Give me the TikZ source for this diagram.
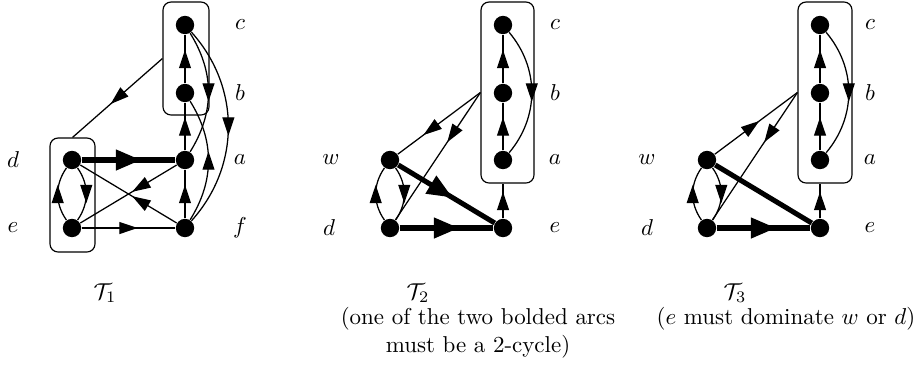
\documentclass[tikz,border=0pt]{standalone}
\usetikzlibrary{arrows.meta, decorations.markings, fit}

\begin{document}
\begin{tikzpicture}[
    x=0.0153cm, y=-0.0153cm,
    vtx/.style={circle, fill=black, inner sep=0pt, minimum size=8pt},
    grp/.style={draw, rounded corners=3.5pt, inner sep=0pt, line width=0.5pt},
    arc/.style={line width=0.55pt, postaction={decorate},
        decoration={markings, mark=at position #1 with {\arrow[xshift=4pt]{Triangle[length=8pt, width=5.2pt]}}}},
    arc/.default=0.5,
    boldarc/.style={line width=2.2pt, postaction={decorate},
        decoration={markings, mark=at position #1 with {\arrow[xshift=5.5pt]{Triangle[length=11pt, width=8.6pt]}}}},
    boldarc/.default=0.5,
    boldline/.style={line width=2.2pt}
]
\path[use as bounding box] (0,0) rectangle (917,365);

% --- T1 ---
\node[vtx] (c1) at (185, 25) {};
\node[vtx] (b1) at (185, 93) {};
\node[vtx] (a1) at (185, 160) {};
\node[vtx] (f1) at (185, 228) {};
\node[vtx] (d1) at (72, 160) {};
\node[vtx] (e1) at (72, 228) {};
\node[grp, fit={(163,2) (209,115)}] (cb1) {};
\node[grp, fit={(50,138) (95,252)}] (de1) {};

\node (lc1) at (240, 25) {$c$};
\node (lb1) at (240, 93) {$b$};
\node (la1) at (240, 160) {$a$};
\node (lf1) at (240, 228) {$f$};
\node (ld1) at (13, 160) {$d$};
\node (le1) at (13, 228) {$e$};

\draw[arc] (b1) -- (c1);
\draw[arc] (a1) -- (b1);
\draw[arc] (f1) -- (a1);
\draw[boldarc] (d1) -- (a1);
\draw[arc] (e1) -- (f1);
\draw[arc=0.38] (a1) -- (e1);
\draw[arc=0.38] (f1) -- (d1);
\draw[arc] (d1) to[bend left=35] (e1);
\draw[arc] (e1) to[bend left=35] (d1);
\draw[arc] (c1) to[bend left=32] (a1);
\draw[arc] (f1) to[bend right=32] (b1);
\draw[arc] (c1) to[bend left=42] (f1);
\draw[arc] (cb1.west) -- (de1.north);

% --- T2 ---
\node[vtx] (c2) at (503, 25) {};
\node[vtx] (b2) at (503, 93) {};
\node[vtx] (a2) at (503, 160) {};
\node[vtx] (e2) at (503, 228) {};
\node[vtx] (w2) at (390, 160) {};
\node[vtx] (d2) at (390, 228) {};
\node[grp, fit={(481,2) (534,183)}] (cba2) {};

\node (lc2) at (555, 25) {$c$};
\node (lb2) at (555, 93) {$b$};
\node (la2) at (555, 160) {$a$};
\node (le2) at (555, 228) {$e$};
\node (lw2) at (331, 160) {$w$};
\node (ld2) at (329, 228) {$d$};

\draw[arc] (b2) -- (c2);
\draw[arc] (a2) -- (b2);
\draw[arc] (c2) to[bend left=40] (a2);
\draw[arc] (e2) -- (e2 |- cba2.south);
\draw[arc=0.6] (cba2.west) -- (w2);
\draw[arc=0.33] (cba2.west) -- (d2);
\draw[boldarc=0.45] (w2) -- (e2);
\draw[boldarc] (d2) -- (e2);
\draw[arc] (w2) to[bend left=35] (d2);
\draw[arc] (d2) to[bend left=35] (w2);

% --- T3 ---
\node[vtx] (c3) at (820, 25) {};
\node[vtx] (b3) at (820, 93) {};
\node[vtx] (a3) at (820, 160) {};
\node[vtx] (e3) at (820, 228) {};
\node[vtx] (w3) at (707, 160) {};
\node[vtx] (d3) at (707, 228) {};
\node[grp, fit={(798,2) (852,183)}] (cba3) {};

\node (lc3) at (870, 25) {$c$};
\node (lb3) at (870, 93) {$b$};
\node (la3) at (870, 160) {$a$};
\node (le3) at (870, 228) {$e$};
\node (lw3) at (647, 160) {$w$};
\node (ld3) at (647, 228) {$d$};

\draw[arc] (b3) -- (c3);
\draw[arc] (a3) -- (b3);
\draw[arc] (c3) to[bend left=40] (a3);
\draw[arc] (e3) -- (e3 |- cba3.south);
\draw[arc=0.45] (w3) -- (cba3.west);
\draw[arc=0.33] (cba3.west) -- (d3);
\draw[boldline] (w3) -- (e3);
\draw[boldarc] (d3) -- (e3);
\draw[arc] (w3) to[bend left=35] (d3);
\draw[arc] (d3) to[bend left=35] (w3);

% --- Captions ---
\node (t1) at (105, 293) {$\mathcal{T}_1$};
\node (t2) at (418, 293) {$\mathcal{T}_2$};
\node[align=center] (n2) at (478, 333) {(one of the two bolded arcs\\must be a 2-cycle)};
\node (t3) at (735, 293) {$\mathcal{T}_3$};
\node (n3) at (786, 319) {($e$ must dominate $w$ or $d$)};

\end{tikzpicture}
\end{document}
